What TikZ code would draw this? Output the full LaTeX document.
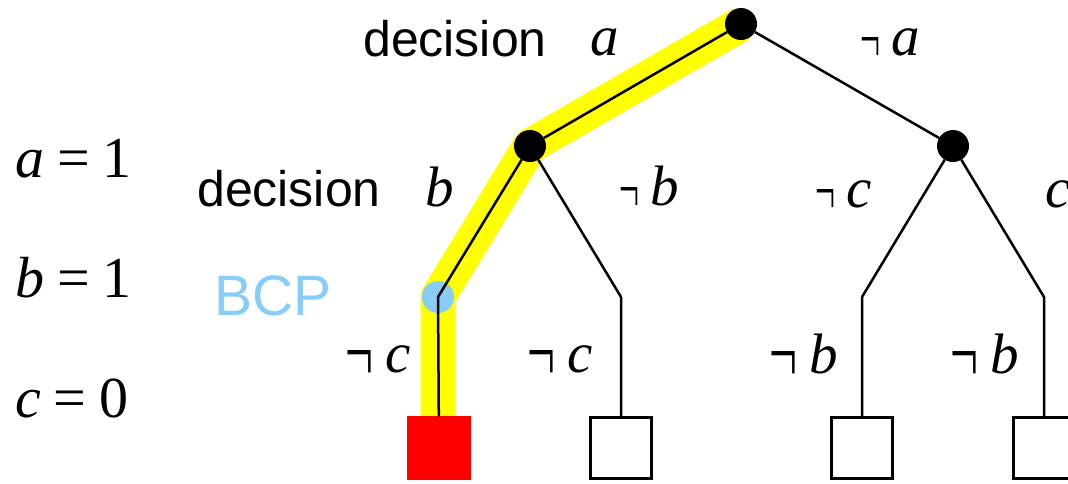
\documentclass[tikz,border=0pt]{standalone}
\usepackage{graphicx}
\usepackage{fontspec}
\setmainfont{Liberation Serif}
\newfontfamily\hv{Liberation Sans}
\definecolor{hilite}{RGB}{255,255,0}
\definecolor{bcpblue}{RGB}{136,204,248}
\definecolor{leafred}{RGB}{255,0,0}
\newcommand{\negsmall}{\raisebox{-7pt}{\resizebox{20pt}{25pt}{¬}}\kern11.5pt}
\newcommand{\negbig}{\raisebox{-9pt}{\resizebox{28pt}{31pt}{¬}}\kern12pt}
\newcommand{\myeq}{\kern13pt=\kern13pt}
\tikzset{
  dot/.style={circle, fill=black, inner sep=0pt, minimum size=32pt},
  leaf/.style={draw, line width=2.5pt, minimum size=61pt, inner sep=0pt, fill=white},
  edge/.style={line width=2.5pt, line join=round},
  mt/.style={anchor=base west, inner sep=0pt, font=\fontsize{57}{60}\selectfont},
  eq/.style={anchor=base west, inner sep=0pt, font=\fontsize{58}{62}\selectfont},
  sf/.style={anchor=base west, inner sep=0pt, font=\hv\fontsize{50}{56}\selectfont},
}
\begin{document}
\begin{tikzpicture}[x=1pt,y=-1pt]
\useasboundingbox (0,0) rectangle (1068,483);
\clip (0,0) rectangle (1068,483);
% positions
\coordinate (proot) at (741,24);
\coordinate (pb) at (530,146);
\coordinate (pc) at (953,146);
\coordinate (bcp) at (438,297);
\coordinate (m2) at (621,297);
\coordinate (m3) at (862,297);
\coordinate (m4) at (1044,297);
% highlight
\draw[hilite, line width=35pt, line join=round] (proot) -- (pb) -- (bcp) -- (438,418);
\fill[bcpblue] (bcp) circle (16pt);
% nodes
\node[dot] (root) at (proot) {};
\node[dot] (nb) at (pb) {};
\node[dot] (nc) at (pc) {};
\node[leaf, fill=leafred, draw=leafred] (l1) at (439,448) {};
\node[leaf] (l2) at (621,448) {};
\node[leaf] (l3) at (862,448) {};
\node[leaf] (l4) at (1044,448) {};
% edges
\draw[edge] (root) -- (nb);
\draw[edge] (root) -- (nc);
\draw[edge] (nb) -- (bcp) -- (l1);
\draw[edge] (nb) -- (m2) -- (l2);
\draw[edge] (nc) -- (m3) -- (l3);
\draw[edge] (nc) -- (m4) -- (l4);
% labels
\node[sf] (dA) at (363,56) {decision};
\node[mt] (ea) at (590,55) {\textit{a}};
\node[mt] (ena) at (860,55) {\negsmall\textit{a}};
\node[sf] (dB) at (197,206) {decision};
\node[mt] (eb) at (425,206) {\textit{b}};
\node[mt] (enb) at (619,205) {\negsmall\textit{b}};
\node[mt] (enc) at (815,207) {\negsmall\textit{c}};
\node[mt] (ec) at (1045,207) {\textit{c}};
\node[sf, text=bcpblue, font=\hv\fontsize{57}{60}\selectfont] (bcpl) at (214,315) {BCP};
\node[mt] (e1) at (345,372) {\negbig\textit{c}};
\node[mt] (e2) at (527,372) {\negbig\textit{c}};
\node[mt] (e3) at (769,373) {\negbig\textit{b}};
\node[mt] (e4) at (950,373) {\negbig\textit{b}};
\node[eq] (va) at (15,177) {\textit{a}\myeq 1};
\node[eq] (vb) at (15,297) {\textit{b}\myeq 1};
\node[eq] (vc) at (15,417) {\textit{c}\myeq 0};
\end{tikzpicture}
\end{document}
